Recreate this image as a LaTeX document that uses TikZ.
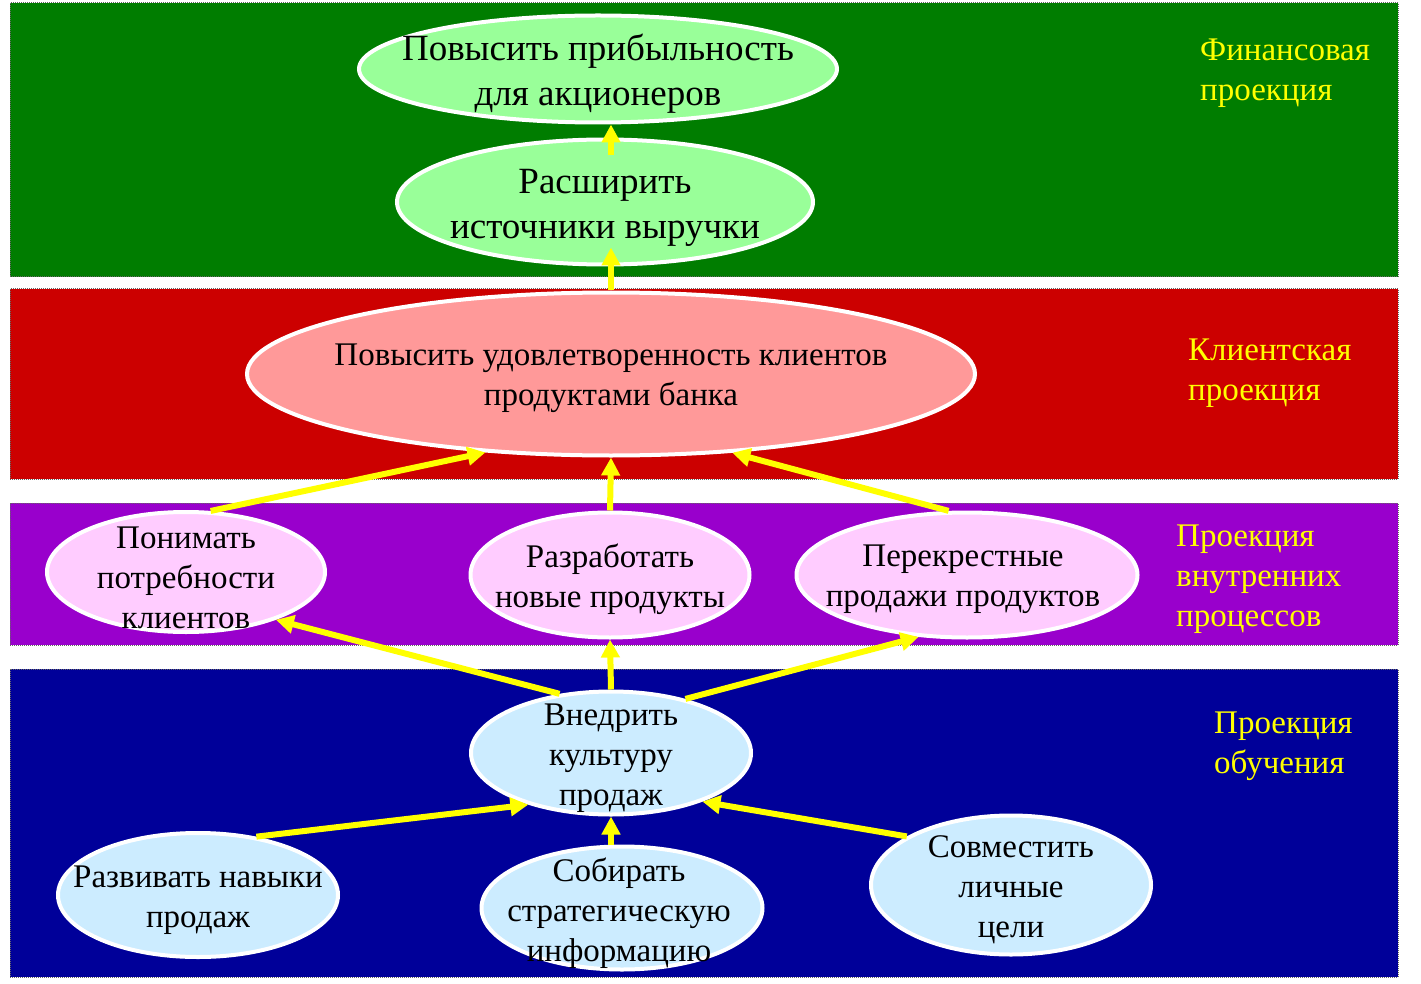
\documentclass[tikz,border=0pt]{standalone}
\usepackage{fontspec}
\setmainfont{Liberation Serif}
\usetikzlibrary{shapes.geometric,arrows.meta}
\definecolor{bandgreen}{RGB}{0,125,0}
\definecolor{bandred}{RGB}{204,0,0}
\definecolor{bandviolet}{RGB}{153,0,204}
\definecolor{bandnavy}{RGB}{0,0,153}
\definecolor{ovalgreen}{RGB}{153,255,153}
\definecolor{ovalred}{RGB}{255,153,153}
\definecolor{ovallilac}{RGB}{255,204,255}
\definecolor{ovalblue}{RGB}{204,236,255}
\definecolor{hiyellow}{RGB}{255,255,0}
\begin{document}
\begin{tikzpicture}[x=1pt,y=-1pt,
  band/.style={draw=black!60,densely dotted,line width=1pt},
  oval/.style={ellipse,draw=white,line width=4pt,inner sep=0pt},
  txt/.style={align=center,inner sep=0pt,font=\fontsize{33}{40}\selectfont},
  bigtxt/.style={align=center,inner sep=0pt,font=\fontsize{37}{45}\selectfont},
  side/.style={align=left,anchor=north west,inner sep=0pt,text=hiyellow,font=\fontsize{33}{40}\selectfont},
  arr/.style={draw=hiyellow,line width=6pt,-{Triangle[length=18pt,width=18pt]}}]
  \useasboundingbox (0,0) rectangle (1421,984);
  \fill[white] (0,0) rectangle (1421,984);
  \draw[band,fill=bandgreen] (10,3) rectangle (1398,277);
  \draw[band,fill=bandred] (10,289) rectangle (1398,479);
  \draw[band,fill=bandviolet] (10,503) rectangle (1398,645);
  \draw[band,fill=bandnavy] (10,669) rectangle (1398,977);

  \node[side] (fin) at (1200,39) {Финансовая\\проекция};
  \node[side] (cli) at (1188,339) {Клиентская\\проекция};
  \node[side] (proc) at (1176,525) {Проекция\\внутренних\\процессов};
  \node[side] (learn) at (1214,712) {Проекция\\обучения};

  \node[oval,fill=ovalgreen,minimum width=478,minimum height=107] (prof) at (598,69) {};
  \node[oval,fill=ovalgreen,minimum width=416,minimum height=125] (rev) at (605,202) {};
  \node[oval,fill=ovalred,minimum width=728,minimum height=163] (sat) at (611,374) {};
  \node[oval,fill=ovallilac,minimum width=278,minimum height=120] (need) at (186,572) {};
  \node[oval,fill=ovallilac,minimum width=279,minimum height=125] (newp) at (610,575) {};
  \node[oval,fill=ovallilac,minimum width=341,minimum height=125] (cross) at (967,575) {};
  \node[oval,fill=ovalblue,minimum width=280,minimum height=123] (cult) at (611,753) {};
  \node[oval,fill=ovalblue,minimum width=280,minimum height=124] (skill) at (198,895) {};
  \node[oval,fill=ovalblue,minimum width=281,minimum height=123] (info) at (622,908) {};
  \node[oval,fill=ovalblue,minimum width=280,minimum height=139] (goal) at (1011,885) {};

  \draw[arr] ([yshift=-18pt]rev.north -| sat.north) -- (prof.south -| sat.north);
  \draw[arr] (sat.north) -- ([yshift=19pt]rev.south -| sat.north);
  \draw[arr] (need.68) -- (sat.-148);
  \draw[arr] (newp.north) -- (sat.south);
  \draw[arr] (cross.106) -- (sat.-33);
  \draw[arr] (cult.131) -- (need.-28);
  \draw[arr] (cult.north) -- (newp.south);
  \draw[arr] (cult.36) -- (cross.-128);
  \draw[arr] (skill.45) -- (cult.-148);
  \draw[arr] (cult.south |- info.north) -- (cult.south);
  \draw[arr] (goal.155) -- (cult.-28);

  \node[bigtxt] (proft) at (598,74) {Повысить прибыльность\\для акционеров};
  \node[bigtxt] (revt) at (605,208) {Расширить\\источники выручки};
  \node[txt] (satt) at (611,378) {Повысить удовлетворенность клиентов\\продуктами банка};
  \node[txt] (needt) at (186,578) {Понимать\\потребности\\клиентов};
  \node[txt] (newpt) at (610,579) {Разработать\\новые продукты};
  \node[txt] (crosst) at (963,579) {Перекрестные\\продажи продуктов};
  \node[txt] (cultt) at (611,758) {Внедрить\\культуру\\продаж};
  \node[txt] (skillt) at (198,900) {Развивать навыки\\продаж};
  \node[txt] (infot) at (619,913) {Собирать\\стратегическую\\информацию};
  \node[txt] (goalt) at (1011,890) {Совместить\\личные\\цели};
\end{tikzpicture}
\end{document}
